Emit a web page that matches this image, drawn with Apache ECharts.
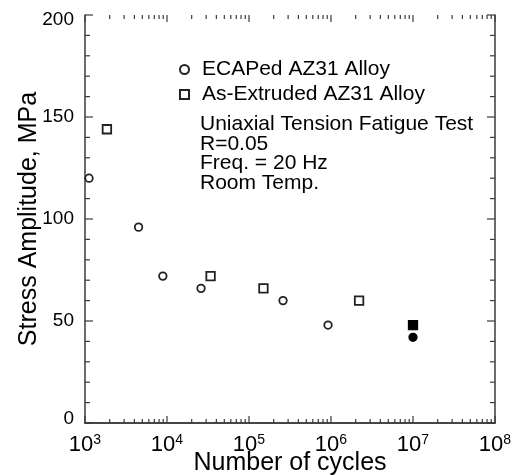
<!DOCTYPE html>
<html>
<head>
<meta charset="utf-8">
<script src="https://cdn.jsdelivr.net/npm/echarts@6/dist/echarts.min.js"></script>
<style>
html,body{margin:0;padding:0;background:#fff;}
#chart{width:512px;height:475px;}
</style>
</head>
<body>
<div id="chart"></div>
<script>
// ---- data ----
const ecapCycles = [1.12e3, 4.5e3, 8.9e3, 2.6e4, 2.6e5, 9.2e5, 1.0e7];
const ecapStress = [120, 96, 72, 66, 60, 48, 42];
const ecapRunout = [false, false, false, false, false, false, true];

const extCycles = [1.85e3, 3.4e4, 1.5e5, 2.2e6, 1.0e7];
const extStress = [144, 72, 66, 60, 48];
const extRunout = [false, false, false, false, true];

const seriesNames = ['ECAPed AZ31 Alloy', 'As-Extruded AZ31 Alloy'];
const noteLines = ['Uniaxial Tension Fatigue Test', 'R=0.05', 'Freq. = 20 Hz', 'Room Temp.'];
const xAxisTitle = 'Number of cycles';
const yAxisTitle = 'Stress Amplitude, MPa';

// axis tick values
const xMajorTicks = [1e3, 1e4, 1e5, 1e6, 1e7, 1e8];
const xMinorTicks = [];
for (let k = 3; k < 8; k++) for (let m = 2; m <= 9; m++) xMinorTicks.push(m * Math.pow(10, k));
const yTicks = [];
for (let v = 0; v <= 200; v += 10) yTicks.push(v);

const FONT = 'Liberation Sans, Arial, sans-serif';
const AXIS = '#3a3a3a';

function build(xs, ys, runout) {
  return xs.map((x, i) => {
    const d = { value: [x, ys[i]] };
    if (runout[i]) d.itemStyle = { color: '#000', borderColor: '#000' };
    return d;
  });
}

const chart = echarts.init(document.getElementById('chart'), null, { renderer: 'canvas' });

const commonX = {
  type: 'log', logBase: 10, min: 1e3, max: 1e8,
  axisLine: { show: true, lineStyle: { color: AXIS, width: 1.5 } },
  axisTick: { show: false }, minorTick: { show: false },
  splitLine: { show: false }
};
const commonY = {
  type: 'value', min: 0, max: 200, interval: 50,
  axisLine: { show: true, lineStyle: { color: AXIS, width: 1.5 } },
  axisTick: { show: false }, minorTick: { show: false },
  splitLine: { show: false }
};

const tickStyle = { stroke: AXIS, lineWidth: 1.2 };
const yLabelStyle = { fontFamily: FONT, fontSize: 19, color: '#000' };

chart.setOption({
  animation: false,
  backgroundColor: '#fff',
  grid: { left: 85, right: 17, top: 15, bottom: 52, containLabel: false, outerBoundsMode: 'none' },
  xAxis: [
    Object.assign({}, commonX, {
      position: 'bottom',
      name: xAxisTitle, nameLocation: 'middle', nameGap: 28, nameMoveOverlap: false,
      nameTextStyle: { fontFamily: FONT, fontSize: 25, color: '#000' },
      axisLabel: {
        margin: 10,
        formatter: v => '{b|10}{s|' + Math.round(Math.log10(v)) + '}',
        rich: {
          b: { fontFamily: FONT, fontSize: 22, color: '#000' },
          s: { fontFamily: FONT, fontSize: 14, color: '#000', padding: [0, 0, 10, 0] }
        }
      }
    }),
    Object.assign({}, commonX, { position: 'top', axisLabel: { show: false } })
  ],
  yAxis: [
    Object.assign({}, commonY, {
      position: 'left',
      name: yAxisTitle, nameLocation: 'middle', nameGap: 43, nameMoveOverlap: false,
      nameTextStyle: { fontFamily: FONT, fontSize: 25, color: '#000' },
      axisLabel: {
        margin: 11,
        formatter: v => v === 200 ? '{t|' + v + '}' : (v === 0 ? '{z|' + v + '}' : '{n|' + v + '}'),
        rich: {
          n: yLabelStyle,
          t: Object.assign({ padding: [10, 0, 0, 0] }, yLabelStyle),
          z: Object.assign({ padding: [0, 0, 8, 0] }, yLabelStyle)
        }
      }
    }),
    Object.assign({}, commonY, { position: 'right', axisLabel: { show: false } })
  ],
  legend: {
    orient: 'vertical', left: 179, top: 59, itemGap: 4, padding: 0,
    itemWidth: 9, itemHeight: 9,
    textStyle: { fontFamily: FONT, fontSize: 21, color: '#000', padding: [0, 0, 0, 8] },
    data: seriesNames
  },
  graphic: [{
    type: 'text', left: 200, top: 114,
    style: { text: noteLines.join('\n'), fontFamily: FONT, fontSize: 21, lineHeight: 19.5, fill: '#000' }
  }],
  series: [
    {
      name: seriesNames[0], type: 'scatter', symbol: 'circle', symbolSize: 7.5,
      itemStyle: { color: '#fff', borderColor: '#222', borderWidth: 1.8, opacity: 1 },
      data: build(ecapCycles, ecapStress, ecapRunout)
    },
    {
      name: seriesNames[1], type: 'scatter', symbol: 'rect', symbolSize: 8.5,
      itemStyle: { color: '#fff', borderColor: '#222', borderWidth: 1.8, opacity: 1 },
      data: build(extCycles, extStress, extRunout)
    },
    {
      name: 'xTicks', type: 'custom', silent: true, clip: false, z: 1,
      data: xMajorTicks.map(v => [v, 1]).concat(xMinorTicks.map(v => [v, 0])),
      encode: { x: 0 },
      renderItem: function (params, api) {
        const x = api.value(0);
        const L = api.value(1) ? 7 : 4;
        const pb = api.coord([x, 0]);
        const pt = api.coord([x, 200]);
        return {
          type: 'group',
          children: [
            { type: 'line', shape: { x1: pb[0], y1: pb[1], x2: pb[0], y2: pb[1] - L }, style: tickStyle },
            { type: 'line', shape: { x1: pt[0], y1: pt[1], x2: pt[0], y2: pt[1] + L }, style: tickStyle }
          ]
        };
      }
    },
    {
      name: 'yTicks', type: 'custom', silent: true, clip: false, z: 1,
      data: yTicks.map(v => [v, v % 50 === 0 ? 1 : 0]),
      encode: { y: 0 },
      renderItem: function (params, api) {
        const y = api.value(0);
        const L = api.value(1) ? 8 : 5;
        const pl = api.coord([1e3, y]);
        const pr = api.coord([1e8, y]);
        return {
          type: 'group',
          children: [
            { type: 'line', shape: { x1: pl[0], y1: pl[1], x2: pl[0] + L, y2: pl[1] }, style: tickStyle },
            { type: 'line', shape: { x1: pr[0], y1: pr[1], x2: pr[0] - L, y2: pr[1] }, style: tickStyle }
          ]
        };
      }
    }
  ]
});
</script>
</body>
</html>
